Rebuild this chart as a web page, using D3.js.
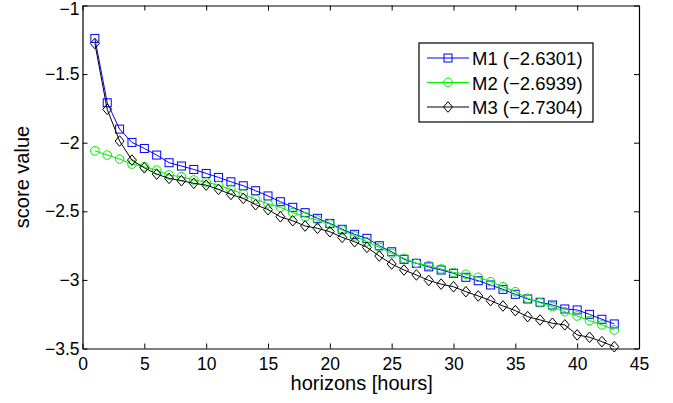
<!DOCTYPE html>
<html>
<head>
<meta charset="utf-8">
<script src="https://cdn.jsdelivr.net/npm/d3@7"></script>
<style>
  body { margin: 0; background: #fff; }
  svg { display: block; font-family: "Liberation Sans", Arial, Helvetica, sans-serif; }
</style>
</head>
<body>
<script>
// forecast horizons (hours)
var hours = [1, 2, 3, 4, 5, 6, 7, 8, 9, 10, 11, 12, 13, 14, 15, 16, 17, 18, 19, 20, 21, 22,
             23, 24, 25, 26, 27, 28, 29, 30, 31, 32, 33, 34, 35, 36, 37, 38, 39, 40, 41, 42, 43];

var m1 = [-1.240, -1.709, -1.901, -1.998, -2.042, -2.090, -2.146, -2.170, -2.195, -2.224,
          -2.253, -2.285, -2.314, -2.350, -2.388, -2.430, -2.471, -2.510, -2.551, -2.588,
          -2.631, -2.668, -2.697, -2.751, -2.795, -2.850, -2.879, -2.905, -2.928, -2.952,
          -2.981, -3.006, -3.037, -3.069, -3.105, -3.139, -3.163, -3.183, -3.212, -3.219,
          -3.251, -3.287, -3.321];

var m2 = [-2.059, -2.090, -2.119, -2.156, -2.175, -2.200, -2.236, -2.248, -2.272, -2.287,
          -2.311, -2.340, -2.374, -2.413, -2.445, -2.471, -2.510, -2.540, -2.564, -2.593,
          -2.637, -2.680, -2.722, -2.763, -2.806, -2.843, -2.879, -2.895, -2.920, -2.945,
          -2.959, -2.981, -3.013, -3.050, -3.086, -3.134, -3.166, -3.195, -3.232, -3.263,
          -3.297, -3.328, -3.365];

var m3 = [-1.277, -1.757, -1.988, -2.127, -2.183, -2.229, -2.260, -2.277, -2.296, -2.309,
          -2.340, -2.377, -2.406, -2.452, -2.488, -2.540, -2.569, -2.607, -2.624, -2.649,
          -2.690, -2.722, -2.763, -2.826, -2.884, -2.928, -2.964, -3.004, -3.031, -3.050,
          -3.086, -3.117, -3.151, -3.190, -3.224, -3.268, -3.292, -3.316, -3.328, -3.401,
          -3.418, -3.450, -3.487];

var seriesNames = ["M1 (\u22122.6301)", "M2 (\u22122.6939)", "M3 (\u22122.7304)"];
var seriesColors = ["#0000ff", "#00ee00", "#000000"];
var seriesMarkers = ["square", "circle", "diamond"];

var xTicks = [0, 5, 10, 15, 20, 25, 30, 35, 40, 45];
var yTicks = [-1, -1.5, -2, -2.5, -3, -3.5];

//Width and height
var w = 673;
var h = 403;
// plot box edges (pixels)
var pLeft = 82.5, pRight = 639, pTop = 5.5, pBottom = 348.5;

var x = d3.scaleLinear().domain([0, 45]).range([pLeft, pRight]);
var y = d3.scaleLinear().domain([-3.5, -1]).range([pBottom, pTop]);

var svg = d3.select("body")
  .append("svg")
  .attr("width", w)
  .attr("height", h);

function fmt(v) {
  return String(v).replace("-", "\u2212");
}

// draws a marker shape centred at 0,0
function marker(g, type, color) {
  if (type == "square") {
    g.append("rect").attr("x", -4).attr("y", -4).attr("width", 8).attr("height", 8)
      .attr("fill", "none").attr("stroke", color).attr("stroke-width", 1);
  } else if (type == "circle") {
    g.append("circle").attr("r", 4.3)
      .attr("fill", "none").attr("stroke", color).attr("stroke-width", 1);
  } else {
    g.append("path").attr("d", "M0,-5.3L4.5,0L0,5.3L-4.5,0Z")
      .attr("fill", "none").attr("stroke", color).attr("stroke-width", 1);
  }
}

//axes box, ticks pointing inward like matlab
var xAxis = d3.axisBottom(x).tickValues(xTicks).tickSizeInner(-5).tickSizeOuter(0).tickFormat(fmt).tickPadding(9);
var yAxis = d3.axisLeft(y).tickValues(yTicks).tickSizeInner(-5).tickSizeOuter(0).tickFormat(fmt).tickPadding(3);

var gx = svg.append("g").attr("transform", "translate(0," + pBottom + ")").call(xAxis);
var gy = svg.append("g").attr("transform", "translate(" + pLeft + ",0)").call(yAxis);
var gx2 = svg.append("g").attr("transform", "translate(0," + pTop + ")")
  .call(d3.axisTop(x).tickValues(xTicks).tickSizeInner(-5).tickSizeOuter(0).tickFormat(""));
var gy2 = svg.append("g").attr("transform", "translate(" + pRight + ",0)")
  .call(d3.axisRight(y).tickValues(yTicks).tickSizeInner(-5).tickSizeOuter(0).tickFormat(""));

[gx, gy, gx2, gy2].forEach(function(g) {
  g.select(".domain").attr("stroke", "#000").attr("stroke-width", 1.2);
  g.selectAll(".tick line").attr("stroke", "#000");
  g.selectAll(".tick text").attr("fill", "#000").style("font-size", "17.5px")
    .style("font-family", "'Liberation Sans', Arial, sans-serif");
});
// keep the top label inside the picture
gy.selectAll(".tick text").filter(function(d) { return d === -1; }).attr("dy", "0.52em");

// series
var allSeries = [m1, m2, m3];
allSeries.forEach(function(vals, i) {
  var pts = hours.map(function(hh, k) { return [hh, vals[k]]; });
  var line = d3.line().x(function(d) { return x(d[0]); }).y(function(d) { return y(d[1]); });
  svg.append("path").datum(pts)
    .attr("d", line)
    .attr("fill", "none")
    .attr("stroke", seriesColors[i])
    .attr("stroke-width", 1);
  svg.selectAll(".mk" + i)
    .data(pts)
    .enter()
    .append("g")
    .attr("class", "mk" + i)
    .attr("transform", function(d) { return "translate(" + x(d[0]) + "," + y(d[1]) + ")"; })
    .each(function() { marker(d3.select(this), seriesMarkers[i], seriesColors[i]); });
});

// axis labels
svg.append("text")
  .attr("x", (pLeft + pRight) / 2 + 1)
  .attr("y", 390)
  .attr("text-anchor", "middle")
  .style("font-size", "20px")
  .text("horizons [hours]");

svg.append("text")
  .attr("transform", "translate(28.5," + ((pTop + pBottom) / 2) + ") rotate(-90)")
  .attr("text-anchor", "middle")
  .style("font-size", "20px")
  .text("score value");

// legend
var lg = svg.append("g").attr("transform", "translate(419,43)");
lg.append("rect").attr("width", 174).attr("height", 79)
  .attr("fill", "#fff").attr("stroke", "#000").attr("stroke-width", 1.2);
seriesNames.forEach(function(name, i) {
  var ry = 15 + i * 24.5;
  lg.append("line").attr("x1", 8).attr("x2", 50).attr("y1", ry).attr("y2", ry)
    .attr("stroke", seriesColors[i]).attr("stroke-width", 1);
  var mg = lg.append("g").attr("transform", "translate(29," + ry + ")");
  marker(mg, seriesMarkers[i], seriesColors[i]);
  lg.append("text").attr("x", 53).attr("y", ry + 7)
    .style("font-size", "18.5px")
    .text(name);
});
</script>
</body>
</html>
